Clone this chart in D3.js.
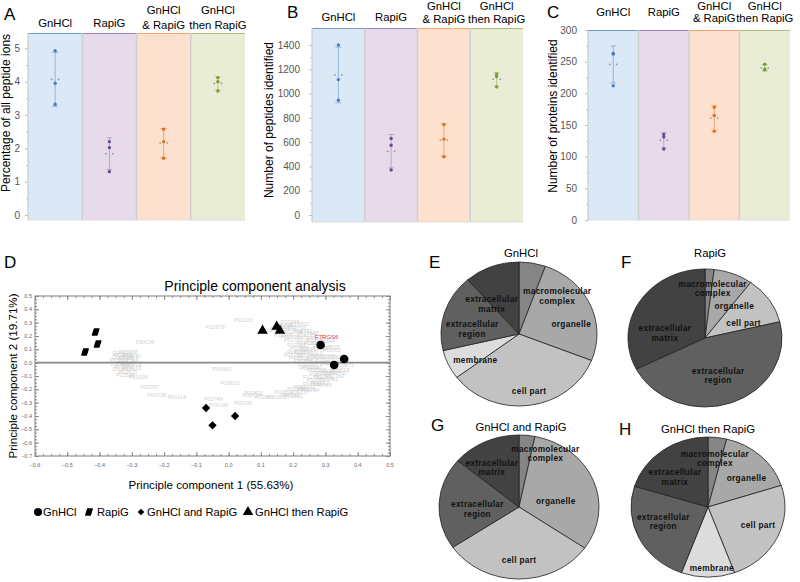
<!DOCTYPE html>
<html><head><meta charset="utf-8">
<script src="https://cdn.jsdelivr.net/npm/d3@7"></script>
<style>body{margin:0;background:#fff;} svg{display:block;}</style>
</head><body><svg id="c" width="800" height="582"></svg>
<script>
// ---------------- DATA ----------------
const groups = ["GnHCl", "RapiG", "GnHCl & RapiG", "GnHCl then RapiG"];
const groupLabels = [["GnHCl"], ["RapiG"], ["GnHCl", "& RapiG"], ["GnHCl", "then RapiG"]];
// replicate values per group (3 replicates)
const ionsPct  = [[4.93, 3.95, 3.32], [2.20, 2.02, 1.30], [2.57, 2.20, 1.70], [4.12, 4.00, 3.72]];
const peptides = [[1400, 1115, 945], [630, 575, 370], [745, 625, 480], [1160, 1140, 1055]];
const proteins = [[263, 262, 212], [135, 131, 112], [178, 165, 140], [246, 238, 237]];
const ticksA = [0, 1, 2, 3, 4, 5];
const ticksB = [0, 200, 400, 600, 800, 1000, 1200, 1400];
const ticksC = [0, 50, 100, 150, 200, 250, 300];

// PCA scores
const pcaGnHCl = [[0.285, 0.133], [0.358, 0.028], [0.327, -0.017]];
const pcaRapiG = [[-0.445, 0.08], [-0.412, 0.23], [-0.406, 0.14]];
const pcaBoth  = [[-0.07, -0.34], [-0.05, -0.47], [0.02, -0.40]];
const pcaThen  = [[0.105, 0.24], [0.149, 0.27], [0.159, 0.24]];
const pcaXTicks = [-0.6, -0.5, -0.4, -0.3, -0.2, -0.1, 0.0, 0.1, 0.2, 0.3, 0.4, 0.5];
const pcaYTicks = [0.5, 0.4, 0.3, 0.2, 0.1, 0.0, -0.1, -0.2, -0.3, -0.4, -0.5, -0.6, -0.7];
// PCA loadings (protein labels, grey)
const loadNames = ["FBXO8","P02768","P01024","P0C0L4","P02647","P02671","P02675","P01009","P02787","P00738",
  "P04114","P02679","P01023","P00450","P19823","P02749","P04196","P0DJI8","P01871","P06396",
  "P02790","P10909","P05155","P01042","P02760","P43652","P00747","P05546","P02766","P04003",
  "P00734","P08603","P01008","P02774","P07225","P05090","P02753","P01019","P03952","P36955",
  "P13671","P02748","P10643","P07358","P0C0L5","P06727","P02656","P02652","P08697","P01011",
  "P00751","P07360","P02743","P04217","P01344","P09871","P05156",
  "P02763","P19652","P00748","P04275","P02765","P01031","P03951","P05452","P08185","P27169",
  "P35858","P01876","P04004","P02750","P29622","P06681","P22792","P05543","P01834","P80108",
  "P01859","P01860","P01861","P01857","P02745","P02746","P02747","P07357","P23142","P12259",
  "Q14624","Q96PD5","P13647","P35527","P04264","P35908","P15924","Q02413","P14923","P02538"];
const loadXY = [[-0.259,0.153],[-0.311,0.083],[-0.326,0.058],[-0.31,0.038],[-0.32,0.0],[-0.326,-0.035],[-0.312,-0.067],[-0.28,-0.105],
  [-0.244,-0.185],[-0.223,-0.242],[-0.161,-0.255],[-0.042,0.27],[0.045,0.32],[-0.021,-0.05],[0.004,-0.155],[-0.047,-0.27],
  [-0.032,-0.317],[0.045,-0.305],[0.077,-0.23],[0.17,0.283],[0.211,0.258],[0.17,0.208],[0.242,0.183],[0.211,0.133],
  [0.231,0.083],[0.216,0.033],[0.242,-0.017],[0.273,-0.055],[0.293,-0.105],[0.283,-0.155],[0.252,-0.205],[0.19,-0.242],
  [0.149,-0.255],[0.072,-0.242],[0.314,0.12],[0.335,0.045],[0.314,-0.005],[0.345,-0.055],[0.32,0.095],[0.273,0.045],
  [0.262,0.145],[0.19,0.308],[0.134,0.245],[0.25,0.22],[0.26,0.07],[0.3,0.0],[0.3,-0.08],[0.27,-0.13],
  [0.23,-0.18],[0.2,0.17],[0.23,0.24],[0.33,-0.1],[0.26,-0.03],[0.22,-0.22],[0.3,0.16],[0.36,-0.02],[0.2,0.06],
  [0.18,0.27],[0.22,0.29],[0.2,0.23],[0.24,0.21],[0.19,0.19],[0.24,0.15],[0.22,0.11],[0.25,0.1],[0.21,0.08],[0.24,0.05],
  [0.23,0.01],[0.27,0.02],[0.25,-0.04],[0.28,-0.08],[0.32,-0.06],[0.31,-0.12],[0.26,-0.11],[0.29,-0.17],[0.26,-0.16],[0.24,-0.2],
  [0.21,-0.2],[0.17,-0.22],[0.2,-0.25],[0.11,-0.26],[0.3,0.05],[0.33,0.02],[0.34,-0.08],[0.29,0.11],[0.27,0.17],[0.16,0.25],
  [-0.33,0.07],[-0.33,0.045],[-0.3,0.05],[-0.34,0.02],[-0.31,0.015],[-0.335,-0.01],[-0.3,-0.02],[-0.33,-0.05],[-0.3,-0.04],[-0.32,-0.09]];
const redLabel = {name: "F7RGS6", xy: [0.304, 0.19]};

// Pie data (percent of proteins per GO cellular component)
const pieCats = ["macromolecular complex", "organelle", "cell part", "membrane", "extracellular region", "extracellular matrix"];
const pieLines = [["macromolecular","complex"],["organelle"],["cell part"],["membrane"],["extracellular","region"],["extracellular","matrix"]];
const pieE = [5.5, 25.5, 33.7, 6.6, 17.3, 11.4];
const pieF = [1.9, 8.2, 11.1, 0, 46.3, 32.4];
const pieG = [3.2, 31.5, 30.9, 0, 20.6, 13.9];
const pieH = [3.9, 16.1, 24.4, 11.2, 24.2, 20.2];

// ---------------- STYLE ----------------
const FONT = '"Liberation Sans", Arial, Helvetica, sans-serif';
const bandFill = ["#dbe8f6", "#e7dbeb", "#fde1ce", "#e9edd5"];
const bandTop  = ["#6a9bd3", "#9c84b8", "#f4a46c", "#a9bf72"];
const ptColor  = ["#4a7ebb", "#6a4c8c", "#e0701a", "#7f9a3a"];
const errColor = ["#97b3d6", "#b7a6ca", "#f0a46c", "#b6c98a"];
const pieColor = ["#858585", "#a8a8a8", "#c2c2c2", "#dcdcdc", "#606060", "#424242"];

const svg = d3.select("#c").style("font-family", FONT);

function txt(x, y, s, size, opts = {}) {
  const t = svg.append("text").attr("x", x).attr("y", y).text(s)
    .attr("font-size", size).attr("fill", opts.fill || "#000")
    .attr("text-anchor", opts.anchor || "start");
  if (opts.weight) t.attr("font-weight", opts.weight);
  if (opts.rotate) t.attr("transform", `rotate(-90,${x},${y})`);
  return t;
}

// ---------------- DOT PANELS A-C ----------------
function dotPanel(cfg) {
  const g = svg.append("g");
  const x = d3.scaleBand().domain(groups).range([cfg.x0, cfg.x1]);
  const y = d3.scaleLinear().domain([cfg.ticks[0], cfg.ticks[cfg.ticks.length - 1]]).range(cfg.range);
  groups.forEach((k, i) => {
    g.append("rect").attr("x", x(k)).attr("y", cfg.top).attr("width", x.bandwidth())
      .attr("height", cfg.bottom - cfg.top).attr("fill", bandFill[i]);
    g.append("line").attr("x1", x(k)).attr("x2", x(k) + x.bandwidth()).attr("y1", cfg.top + 0.5).attr("y2", cfg.top + 0.5)
      .attr("stroke", bandTop[i]).attr("stroke-width", 1.2);
  });
  groups.slice(1).forEach(k => {
    g.append("line").attr("x1", x(k)).attr("x2", x(k)).attr("y1", cfg.top).attr("y2", cfg.bottom)
      .attr("stroke", "#cfcfcf").attr("stroke-width", 1.5);
  });
  g.append("line").attr("x1", cfg.x0).attr("x2", cfg.x1).attr("y1", cfg.bottom).attr("y2", cfg.bottom)
    .attr("stroke", "#dcdcdc").attr("stroke-width", 1);
  // axis
  const ax = g.append("g").attr("transform", `translate(${cfg.x0},0)`)
    .call(d3.axisLeft(y).tickValues(cfg.ticks).tickSize(3).tickPadding(cfg.pad).tickFormat(d3.format("d")));
  ax.select(".domain").remove();
  ax.selectAll("line").attr("stroke", "#bcbcbc");
  ax.selectAll("text").attr("font-size", 10).attr("fill", "#555").attr("font-family", FONT);
  const minor = d3.pairs(cfg.ticks).map(p => (p[0] + p[1]) / 2);
  const ax2 = g.append("g").attr("transform", `translate(${cfg.x0},0)`)
    .call(d3.axisLeft(y).tickValues(minor).tickSize(2).tickFormat(""));
  ax2.select(".domain").remove();
  ax2.selectAll("line").attr("stroke", "#cccccc");
  g.append("line").attr("x1", cfg.x0).attr("x2", cfg.x0).attr("y1", cfg.top).attr("y2", cfg.bottom)
    .attr("stroke", "#c4c4c4");
  // points
  cfg.data.forEach((vals, i) => {
    const cx = x(groups[i]) + x.bandwidth() / 2;
    const m = d3.mean(vals), sd = d3.deviation(vals);
    g.append("line").attr("x1", cx).attr("x2", cx).attr("y1", y(m - sd)).attr("y2", y(m + sd))
      .attr("stroke", errColor[i]).attr("stroke-width", 1);
    [m - sd, m + sd].forEach(v => g.append("line").attr("x1", cx - 3).attr("x2", cx + 3)
      .attr("y1", y(v)).attr("y2", y(v)).attr("stroke", errColor[i]).attr("stroke-width", 1));
    [-3.5, 3.5].forEach(d => g.append("circle").attr("cx", cx + d).attr("cy", y(m)).attr("r", 0.9).attr("fill", "#999"));
    vals.forEach(v => g.append("circle").attr("cx", cx).attr("cy", y(v)).attr("r", 1.7).attr("fill", ptColor[i]));
  });
  // column labels
  groupLabels.forEach((lines, i) => {
    const cx = x(groups[i]) + x.bandwidth() / 2;
    const bases = lines.length === 1 ? [cfg.lab1] : cfg.lab2;
    lines.forEach((s, j) => txt(cx, bases[j], s, 11.3, {anchor: "middle"}));
  });
  txt(cfg.letter[0], cfg.letter[1], cfg.letterText, 17);
  txt(cfg.title[0], cfg.title[1], cfg.titleText, 12, {anchor: "middle", rotate: true});
}

dotPanel({x0: 28, x1: 245, top: 33, bottom: 220, range: [215, 48.3], ticks: ticksA, pad: 5, data: ionsPct,
  lab1: 27, lab2: [14, 29], letter: [4, 20], letterText: "A", title: [10, 113], titleText: "Percentage of all peptide ions"});
dotPanel({x0: 312, x1: 523, top: 28, bottom: 222, range: [215, 45], ticks: ticksB, pad: 9, data: peptides,
  lab1: 21, lab2: [10, 23], letter: [287, 18], letterText: "B", title: [273, 120], titleText: "Number of peptides identified"});
dotPanel({x0: 588, x1: 790, top: 30, bottom: 220, range: [220, 30], ticks: ticksC, pad: 8, data: proteins,
  lab1: 16, lab2: [10, 22], letter: [547, 18], letterText: "C", title: [557, 116], titleText: "Number of proteins identified"});

// ---------------- PCA PANEL D ----------------
(function () {
  const x = d3.scaleLinear().domain([-0.6, 0.5]).range([35, 390]);
  const y = d3.scaleLinear().domain([-0.7, 0.5]).range([456, 296]);
  const g = svg.append("g");
  txt(4, 268, "D", 17);
  txt(255, 291, "Principle component analysis", 14, {anchor: "middle"});
  // grey loadings
  loadXY.forEach((p, i) => g.append("text").attr("x", x(p[0])).attr("y", y(p[1]) + 2)
    .attr("font-size", 5.5).attr("fill", "#d2d2d2").attr("text-anchor", "middle").text(loadNames[i]));
  g.append("text").attr("x", x(redLabel.xy[0])).attr("y", y(redLabel.xy[1]) + 2).attr("font-size", 6)
    .attr("fill", "#e0303a").attr("text-anchor", "middle").text(redLabel.name);
  // zero line
  g.append("line").attr("x1", x(-0.6)).attr("x2", x(0.5)).attr("y1", y(0)).attr("y2", y(0))
    .attr("stroke", "#8a8a8a").attr("stroke-width", 1.8);
  // frame
  g.append("rect").attr("x", x(-0.6)).attr("y", y(0.5)).attr("width", x(0.5) - x(-0.6)).attr("height", y(-0.7) - y(0.5))
    .attr("fill", "none").attr("stroke", "#9a9a9a").attr("stroke-width", 1.3);
  const minorX = d3.range(-0.6, 0.5001, 0.025), minorY = d3.range(-0.7, 0.5001, 0.025);
  const styleAx = a => { a.select(".domain").remove(); a.selectAll("line").attr("stroke", "#8a8a8a"); };
  [[456, d3.axisTop], [296, d3.axisBottom]].forEach(([yy, f]) => {
    styleAx(g.append("g").attr("transform", `translate(0,${yy})`).call(f(x).tickValues(minorX).tickSize(2).tickFormat("")));
    styleAx(g.append("g").attr("transform", `translate(0,${yy})`).call(f(x).tickValues(pcaXTicks).tickSize(4).tickFormat("")));
  });
  [[35, d3.axisRight], [390, d3.axisLeft]].forEach(([xx, f]) => {
    styleAx(g.append("g").attr("transform", `translate(${xx},0)`).call(f(y).tickValues(minorY).tickSize(2).tickFormat("")));
    styleAx(g.append("g").attr("transform", `translate(${xx},0)`).call(f(y).tickValues(pcaYTicks).tickSize(4).tickFormat("")));
  });
  const fmt = d3.format(".1f");
  pcaXTicks.forEach(v => g.append("text").attr("x", x(v)).attr("y", 467).attr("font-size", 5.5).attr("fill", "#666")
    .attr("text-anchor", "middle").text(fmt(v)));
  pcaYTicks.forEach(v => g.append("text").attr("x", 32).attr("y", y(v) + 2).attr("font-size", 5.5).attr("fill", "#666")
    .attr("text-anchor", "end").text(fmt(v)));
  txt(211, 489, "Principle component 1 (55.63%)", 11.6, {anchor: "middle"});
  txt(17, 376, "Principle component 2 (19.71%)", 11.6, {anchor: "middle", rotate: true});

  // markers
  const para = "M-3.2,3 L-1.3,-3 L3.2,-3 L1.3,3 Z";
  const dia = "M0,-4.2 L4.2,0 L0,4.2 L-4.2,0 Z";
  const sym = {
    circle: (gg, cx, cy) => gg.append("circle").attr("cx", cx).attr("cy", cy).attr("r", 4.3).attr("fill", "#000"),
    para: (gg, cx, cy) => gg.append("path").attr("d", para).attr("transform", `translate(${cx},${cy})`)
      .attr("fill", "#000").attr("stroke", "#000").attr("stroke-width", 1.4).attr("stroke-linejoin", "round"),
    diamond: (gg, cx, cy) => gg.append("path").attr("d", dia)
      .attr("transform", `translate(${cx},${cy})`).attr("fill", "#000"),
    tri: (gg, cx, cy) => gg.append("path").attr("d", d3.symbol(d3.symbolTriangle, 48)())
      .attr("transform", `translate(${cx},${cy})`).attr("fill", "#000")
  };
  pcaGnHCl.forEach(p => sym.circle(g, x(p[0]), y(p[1])));
  pcaRapiG.forEach(p => sym.para(g, x(p[0]), y(p[1])));
  pcaBoth.forEach(p => sym.diamond(g, x(p[0]), y(p[1])));
  pcaThen.forEach(p => sym.tri(g, x(p[0]), y(p[1])));

  // legend
  const ly = 512;
  const legend = [["circle", 38, 43, "GnHCl"], ["para", 89, 97, "RapiG"], ["diamond", 141, 147, "GnHCl and RapiG"], ["tri", 248, 255, "GnHCl then RapiG"]];
  legend.forEach(([s, mx, tx, label]) => {
    const mk = sym[s](g, mx, ly);
    if (s === "circle") mk.attr("r", 4);
    if (s === "diamond") mk.attr("transform", `translate(${mx},${ly}) scale(0.8)`);
    txt(tx, ly + 4, label, 11.2);
  });
})();

// ---------------- PIES E-H ----------------
function pieChart(vals, cx, cy, rx, ry, labelPos, letter, lpos, title, tpos) {
  const g = svg.append("g").attr("transform", `translate(${cx},${cy}) scale(1,${ry / rx})`);
  const arcs = d3.pie().sort(null).value(d => d)(vals);
  const arc = d3.arc().innerRadius(0).outerRadius(rx);
  g.selectAll("path").data(arcs.filter(a => a.value > 0)).join("path")
    .attr("d", arc).attr("fill", d => pieColor[d.index])
    .attr("stroke", "#222").attr("stroke-width", 0.8).attr("vector-effect", "non-scaling-stroke");
  vals.forEach((v, i) => {
    if (v <= 0 || !labelPos[i]) return;
    const lines = pieLines[i];
    const bx = cx + labelPos[i][0] * rx, by = cy + labelPos[i][1] * ry;
    const lh = 9.5;
    lines.forEach((s, j) => {
      svg.append("text").attr("x", bx).attr("y", by + 3 + (j - (lines.length - 1) / 2) * lh)
        .attr("text-anchor", "middle").attr("font-size", 8.3).attr("font-weight", "bold")
        .attr("fill", "#111").attr("letter-spacing", 0.3).text(s);
    });
  });
  txt(lpos[0], lpos[1], letter, 17);
  txt(tpos[0], tpos[1], title, 11.3, {anchor: "middle"});
}

pieChart(pieE, 519, 334, 78, 72,
  [[0.49, -0.53], [0.67, -0.14], [0.13, 0.79], [-0.56, 0.36], [-0.6, -0.07], [-0.35, -0.42]],
  "E", [429, 268], "GnHCl", [521, 257]);
pieChart(pieF, 705, 338, 77, 69,
  [[0.1, -0.72], [0.38, -0.46], [0.5, -0.22], null, [0.17, 0.54], [-0.52, -0.07]],
  "F", [621, 268], "RapiG", [710, 257]);
pieChart(pieG, 519, 507, 80, 72,
  [[0.33, -0.74], [0.46, -0.08], [0.0, 0.74], null, [-0.52, 0.03], [-0.34, -0.55]],
  "G", [431, 431], "GnHCl and RapiG", [521, 431]);
pieChart(pieH, 708, 507, 77, 70,
  [[0.09, -0.69], [0.5, -0.41], [0.65, 0.25], [0.05, 0.87], [-0.58, 0.21], [-0.43, -0.43]],
  "H", [619, 435], "GnHCl then RapiG", [708, 433]);
</script>
</body></html>
